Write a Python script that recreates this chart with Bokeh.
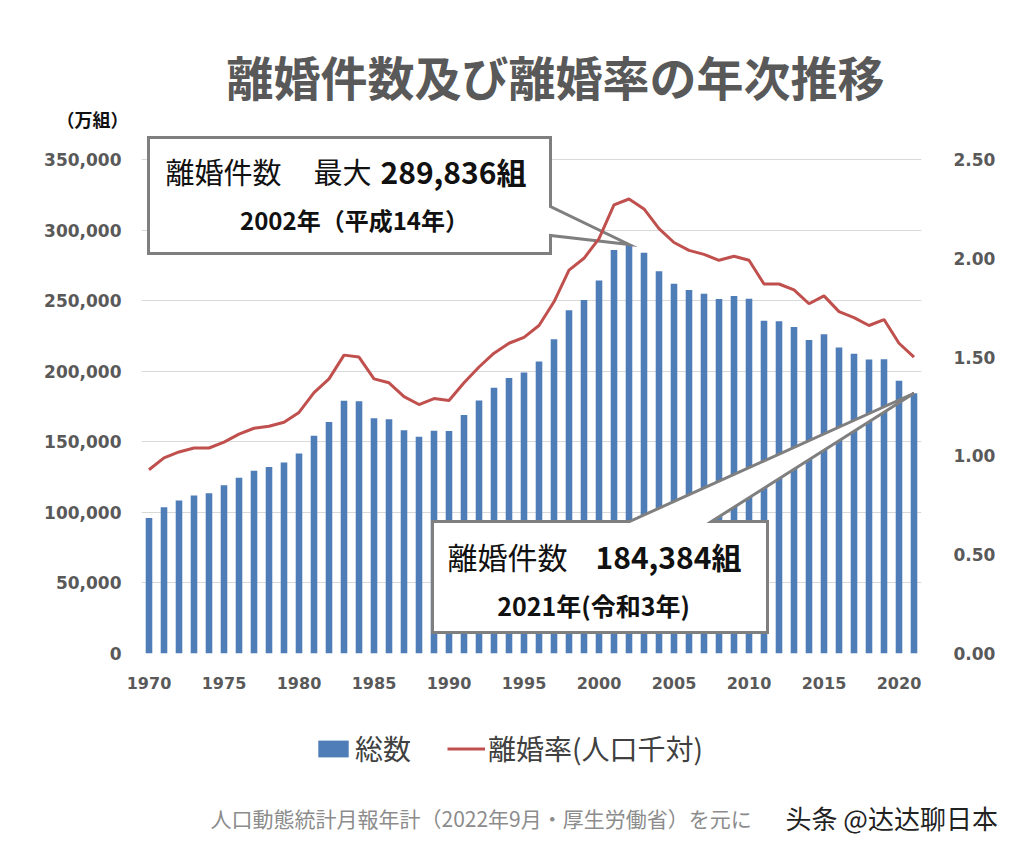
from bokeh.plotting import figure
from bokeh.models import (Range1d, LinearAxis, FixedTicker, NumeralTickFormatter,
                          Label, Legend, LegendItem)
from bokeh.embed import file_html
from bokeh.resources import INLINE

# ---------------- data ----------------
years = list(range(1970, 2022))
divorces = [95937, 103595, 108382, 111877, 113622, 119135, 124512, 129485, 132146, 135250,
            141689, 154221, 163980, 179150, 178746, 166640, 166054, 158227, 153600, 157811,
            157608, 168969, 179191, 188297, 195106, 199016, 206955, 222635, 243183, 250529,
            264246, 285911, 289836, 283854, 270804, 261917, 257475, 254832, 251136, 253353,
            251378, 235719, 235406, 231383, 222107, 226238, 216856, 212296, 208333, 208496,
            193253, 184384]
rates = [0.93, 0.99, 1.02, 1.04, 1.04, 1.07, 1.11, 1.14, 1.15, 1.17,
         1.22, 1.32, 1.39, 1.51, 1.50, 1.39, 1.37, 1.30, 1.26, 1.29,
         1.28, 1.37, 1.45, 1.52, 1.57, 1.60, 1.66, 1.78, 1.94, 2.00,
         2.10, 2.27, 2.30, 2.25, 2.15, 2.08, 2.04, 2.02, 1.99, 2.01,
         1.99, 1.87, 1.87, 1.84, 1.77, 1.81, 1.73, 1.70, 1.66, 1.69,
         1.57, 1.50]
left_ticks = [0, 50000, 100000, 150000, 200000, 250000, 300000, 350000]
right_ticks = [0.0, 0.5, 1.0, 1.5, 2.0, 2.5]
x_ticks = [1970, 1975, 1980, 1985, 1990, 1995, 2000, 2005, 2010, 2015, 2020]
max_year, max_count = 2002, 289836
last_year, last_count = 2021, 184384
series_names = ["総数", "離婚率(人口千対)"]

JP = "Noto Sans CJK JP"
NUM = "DejaVu Sans"
BLUE = "#4F7DB8"
RED = "#C0504D"
GREY = "#595959"

W = 1008
HEAD_H, MAIN_H, FOOT_H = 130, 570, 145   # page bands: 0-130, 130-700, 700-845


def bare(height, y0, y1):
    f = figure(width=W, height=height, output_backend="svg", toolbar_location=None,
               x_range=Range1d(0, W), y_range=Range1d(y1, y0),
               x_axis_type=None, y_axis_type=None, min_border=0)
    f.outline_line_color = None
    f.xgrid.visible = False
    f.ygrid.visible = False
    f.title.visible = False
    return f


def add_text(f, x, y, text, size, style="normal", color="#111111", align="left", font=JP):
    f.add_layout(Label(x=x, y=y, text=text, text_font=font, text_font_size=size,
                       text_font_style=style, text_color=color, text_align=align,
                       text_baseline="middle"))

# ---------------- header ----------------
head = bare(HEAD_H, 0, HEAD_H)
add_text(head, 555, 75, "離婚件数及び離婚率の年次推移", "47px", "bold", GREY, "center")
add_text(head, 92, 118, "（万組）", "18px", "bold", "#111111", "center")

# ---------------- main chart ----------------
# main frame: page x 141..921, page y 130..653
def px_x(x):
    return 1969.5 + (x - 141) / 15.0

def px_y(y):
    return (653 - y) * 350000 / 494.0

top_extra = (653 - HEAD_H) / 494.0

p = figure(width=W, height=MAIN_H, output_backend="svg", toolbar_location=None,
           x_range=Range1d(1969.5, 2021.5), y_range=Range1d(0, 350000 * top_extra),
           min_border_left=141, min_border_right=W - 921, min_border_top=0,
           min_border_bottom=HEAD_H + MAIN_H - 653)
p.title.visible = False
p.extra_y_ranges = {"rate": Range1d(0, 2.5 * top_extra)}
p.outline_line_color = None
p.xgrid.visible = False
p.ygrid.ticker = FixedTicker(ticks=left_ticks)
p.ygrid.grid_line_color = "#d9d9d9"
p.ygrid.grid_line_width = 1


def style_axis(ax, size):
    ax.axis_line_color = None
    ax.major_tick_line_color = None
    ax.minor_tick_line_color = None
    ax.major_tick_out = 0
    ax.major_tick_in = 0
    ax.major_label_text_font = NUM
    ax.major_label_text_font_style = "bold"
    ax.major_label_text_font_size = size
    ax.major_label_text_color = GREY

p.yaxis.ticker = FixedTicker(ticks=left_ticks)
p.yaxis.formatter = NumeralTickFormatter(format="0,0")
style_axis(p.yaxis[0], "17px")
p.yaxis.major_label_standoff = 20

p.xaxis.ticker = FixedTicker(ticks=x_ticks)
style_axis(p.xaxis[0], "16px")
p.xaxis.major_label_standoff = 23

ry = LinearAxis(y_range_name="rate", ticker=FixedTicker(ticks=right_ticks),
                formatter=NumeralTickFormatter(format="0.00"))
style_axis(ry, "17px")
ry.major_label_standoff = 32
p.add_layout(ry, "right")

p.vbar(x=years, top=divorces, width=0.44, fill_color=BLUE, line_color=None)

# callout boxes (tips point at the data)
p.patch([px_x(148), px_x(550), px_x(550), max_year, px_x(550), px_x(550), px_x(148)],
        [px_y(137), px_y(137), px_y(206), max_count, px_y(235), px_y(253), px_y(253)],
        fill_color="white", line_color="#7f7f7f", line_width=3, line_join="miter")
p.patch([px_x(432), px_x(629), last_year, px_x(711), px_x(767), px_x(767), px_x(432)],
        [px_y(521), px_y(521), last_count, px_y(521), px_y(521), px_y(632), px_y(632)],
        fill_color="white", line_color="#7f7f7f", line_width=3, line_join="miter")

p.line(x=years, y=rates, y_range_name="rate", line_color=RED, line_width=3)


def lab(x, y, text, size, style="normal", align="left"):
    add_text(p, px_x(x), px_y(y), text, size, style, "#111111", align)

lab(165, 170, "離婚件数", "29px")
lab(313, 170, "最大", "29px")
lab(380, 170, f"{max_count:,}組", "30px", "bold")
lab(354, 219, f"{max_year}年（平成14年）", "24px", "bold", "center")

lab(447, 555, "離婚件数", "30px")
lab(595, 555, f"{last_count:,}組", "30px", "bold")
lab(593, 604, f"{last_year}年(令和3年)", "25px", "bold", "center")

# ---------------- footer: legend + source ----------------
foot = bare(FOOT_H, HEAD_H + MAIN_H, HEAD_H + MAIN_H + FOOT_H)
# legend proxies placed outside the visible footer area
lb = foot.vbar(x=[-500], top=[-500], bottom=[-600], width=1, fill_color=BLUE, line_color=None)
ll = foot.line(x=[-600, -500], y=[-500, -500], line_color=RED, line_width=3)
legend = Legend(items=[LegendItem(label=series_names[0], renderers=[lb]),
                       LegendItem(label=series_names[1], renderers=[ll])],
                orientation="horizontal", location=(314, 77),
                label_text_font=JP, label_text_font_size="28px", label_text_color="#404040",
                glyph_width=38, glyph_height=21, label_standoff=3, spacing=36,
                border_line_color=None, background_fill_alpha=0, padding=8, margin=0)
foot.add_layout(legend, "center")
add_text(foot, 210, 817, "人口動態統計月報年計（2022年9月・厚生労働省）を元に", "21px",
         "normal", "#8c8c8c")
add_text(foot, 785, 817, "头条 @达达聊日本", "26px", "normal", "#222222",
         font="Noto Sans CJK SC")

open("out.html", "w").write(file_html([head, p, foot], INLINE))
